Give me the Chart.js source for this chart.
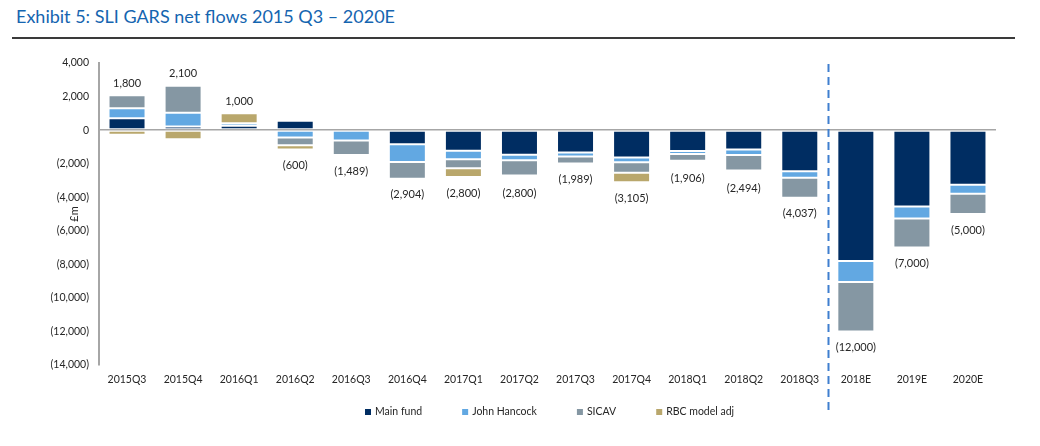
<!DOCTYPE html>
<html>
<head>
<meta charset="utf-8">
<script src="https://cdn.jsdelivr.net/npm/chart.js@4"></script>
<style>
    body { margin: 0; background: #fff; }
    #wrap { position: relative; width: 1040px; height: 446px; }
    #title {
        position: absolute; left: 16px; top: 5px;
        font-family: Lato, "Open Sans", sans-serif; font-size: 18px;
        color: #1565b0; white-space: nowrap;
    }
    #rule { position: absolute; left: 12px; top: 37px; width: 1003px; height: 2px; background: #3a3a3a; }
    canvas { position: absolute; left: 0; top: 0; }
</style>
</head>
<body>
<div id="wrap">
    <div id="title">Exhibit 5: SLI GARS net flows 2015 Q3 – 2020E</div>
    <div id="rule"></div>
    <canvas id="myChart" width="1040" height="446"></canvas>
</div>
<script>
// Chart data (£m)
const quarters = ["2015Q3", "2015Q4", "2016Q1", "2016Q2", "2016Q3", "2016Q4", "2017Q1", "2017Q2",
    "2017Q3", "2017Q4", "2018Q1", "2018Q2", "2018Q3", "2018E", "2019E", "2020E"];
const mainFund    = [700, 220, 260, 560, 0, -850, -1230, -1470, -1330, -1630, -1250, -1160, -2450, -7800, -4550, -3250];
const johnHancock = [600, 820, 150, -440, -620, -1050, -500, -330, -250, -290, -170, -330, -390, -1250, -720, -550];
const sicav       = [780, 1600, 0, -460, -869, -1004, -540, -900, -409, -620, -400, -920, -1197, -2950, -1730, -1200];
const rbcAdj      = [-280, -540, 590, -260, 0, 0, -530, -100, 0, -565, -86, -84, 0, 0, 0, 0];
const totals      = [1800, 2100, 1000, -600, -1489, -2904, -2800, -2800, -1989, -3105, -1906, -2494, -4037, -12000, -7000, -5000];
const yTicks = [4000, 2000, 0, -2000, -4000, -6000, -8000, -10000, -12000, -14000];

const FONT = 'Lato, "Open Sans", sans-serif';
const TEXT = "#262626";

function fmt(v) {
    const s = Math.abs(v).toLocaleString("en-US");
    return v < 0 ? "(" + s + ")" : s;
}

// Labels, divider, axis title and legend drawn on top of the bars
const extras = {
    id: "extras",
    afterDraw(chart) {
        const ctx = chart.ctx;
        const x = chart.scales.x;
        const y = chart.scales.y;
        const sets = chart.data.datasets;

        ctx.save();
        ctx.font = "11px " + FONT;
        ctx.fillStyle = TEXT;
        ctx.textAlign = "center";
        ctx.textBaseline = "middle";
        totals.forEach((t, i) => {
            let pos = 0, neg = 0;
            sets.forEach((ds) => {
                const v = ds.data[i];
                if (v > 0) pos += v; else neg += v;
            });
            const cx = x.getPixelForValue(i);
            const cy = t < 0 ? y.getPixelForValue(neg) + 16 : y.getPixelForValue(pos) - 12;
            ctx.fillText(fmt(t), cx, cy);
        });

        // dashed divider between actuals and estimates
        const dx = Math.round((x.getPixelForValue(12) + x.getPixelForValue(13)) / 2) + 0.5;
        ctx.strokeStyle = "#3f7fcf";
        ctx.lineWidth = 2;
        ctx.setLineDash([8, 5]);
        ctx.beginPath();
        ctx.moveTo(dx, 64);
        ctx.lineTo(dx, 411);
        ctx.stroke();
        ctx.setLineDash([]);

        // axis title
        ctx.save();
        ctx.translate(74, (y.top + y.bottom) / 2);
        ctx.rotate(-Math.PI / 2);
        ctx.fillText("£m", 0, 0);
        ctx.restore();

        // legend
        ctx.font = "10.5px " + FONT;
        ctx.textAlign = "left";
        let lx = 365;
        const ly = 412;
        sets.forEach((ds) => {
            ctx.fillStyle = ds.backgroundColor;
            ctx.fillRect(lx, ly - 3, 6, 6);
            ctx.fillStyle = TEXT;
            ctx.fillText(ds.label, lx + 10, ly);
            lx += 10 + ctx.measureText(ds.label).width + 40;
        });
        ctx.restore();
    }
};

function makeSet(label, data, color) {
    return {
        label: label,
        data: data,
        backgroundColor: color,
        borderColor: "#ffffff",
        borderWidth: 1,
        borderSkipped: false,
        barPercentage: 0.66,
        categoryPercentage: 1.0,
    };
}

const ctx = document.getElementById("myChart").getContext("2d");
const myChart = new Chart(ctx, {
    type: "bar",
    data: {
        labels: quarters,
        datasets: [
            makeSet("Main fund", mainFund, "#002d62"),
            makeSet("John Hancock", johnHancock, "#62a8e2"),
            makeSet("SICAV", sicav, "#8597a3"),
            makeSet("RBC model adj", rbcAdj, "#b9a76c"),
        ],
    },
    options: {
        responsive: false,
        animation: false,
        layout: { padding: { top: 63, right: 44, bottom: 0, left: 0 } },
        plugins: { legend: { display: false }, tooltip: { enabled: false } },
        scales: {
            x: {
                stacked: true,
                grid: { display: false, drawTicks: false },
                border: { display: false },
                ticks: { color: TEXT, font: { family: FONT, size: 10.5 }, padding: 8, maxRotation: 0 },
                afterFit: (s) => { s.height = 81; },
            },
            y: {
                stacked: true,
                min: -14000,
                max: 4000,
                afterBuildTicks: (s) => { s.ticks = yTicks.map((v) => ({ value: v })); },
                grid: {
                    drawTicks: false,
                    color: (c) => (c.tick && c.tick.value === 0 ? "#a6a6a6" : "rgba(0,0,0,0)"),
                    lineWidth: 1.5,
                },
                border: { display: true, color: "#a6a6a6", width: 2 },
                ticks: {
                    color: TEXT,
                    font: { family: FONT, size: 10.5 },
                    padding: 10,
                    callback: (v) => fmt(v),
                },
                afterFit: (s) => { s.width = 99; },
            },
        },
    },
    plugins: [extras],
});
</script>
</body>
</html>
